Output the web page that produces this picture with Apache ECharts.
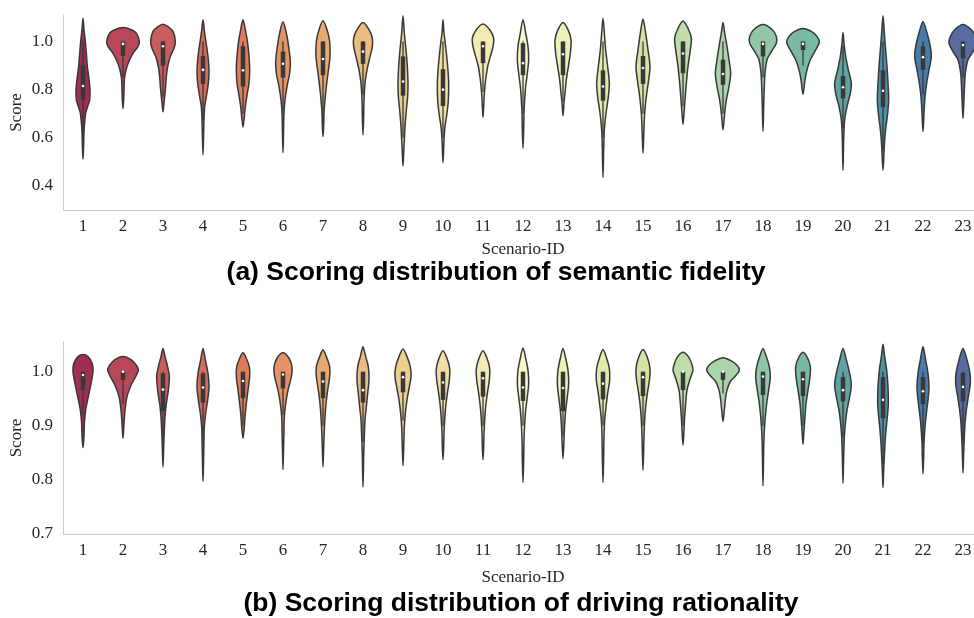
<!DOCTYPE html>
<html>
<head>
<meta charset="utf-8">
<script src="https://cdn.jsdelivr.net/npm/echarts@6/dist/echarts.min.js"></script>
<style>
  html, body { margin: 0; padding: 0; background: #fff; }
  #chart { width: 974px; height: 618px; }
</style>
</head>
<body>
<div id="chart"></div>
<script>
// scenario ids on the x axis
const scenarios = ['1','2','3','4','5','6','7','8','9','10','11','12','13','14','15','16','17','18','19','20','21','22','23'];

// violin outlines: [score, density] from top tip to bottom tip (density in relative width units)
const fidelityShape = [
  [[1.097,0],[1.049,3],[1.0,7],[0.951,10],[0.896,13],[0.854,17],[0.799,21],[0.757,20],[0.73,14],[0.702,8],[0.647,4],[0.605,2.5],[0.55,1.5],[0.511,0]],
  [[1.058,0],[1.049,25],[1.035,40],[1.0,49],[0.979,45],[0.951,30],[0.924,20],[0.896,12],[0.868,7],[0.841,4],[0.799,3],[0.757,2],[0.721,0]],
  [[1.072,0],[1.062,15],[1.042,30],[1.0,37],[0.972,33],[0.938,22],[0.896,14],[0.854,10],[0.813,8],[0.771,5],[0.744,3],[0.708,0]],
  [[1.09,0],[1.035,5],[0.979,11],[0.924,16],[0.875,18],[0.827,16],[0.771,10],[0.73,5],[0.674,3],[0.619,2],[0.529,0]],
  [[1.09,0],[1.049,7],[0.993,14],[0.938,18],[0.882,20],[0.827,18],[0.785,13],[0.73,7],[0.688,4],[0.644,0]],
  [[1.082,0],[1.035,10],[0.979,17],[0.917,22],[0.868,20],[0.813,12],[0.757,6],[0.702,3],[0.619,1.5],[0.538,0]],
  [[1.086,0],[1.049,12],[1.0,20],[0.938,21],[0.868,15],[0.813,10],[0.757,6],[0.702,3],[0.647,2],[0.605,0]],
  [[1.079,0],[1.049,18],[1.014,28],[0.979,28],[0.931,20],[0.882,12],[0.827,6],[0.757,3],[0.688,2],[0.612,0]],
  [[1.107,0],[1.035,4],[0.965,9],[0.896,13],[0.827,15],[0.771,14],[0.716,10],[0.647,6],[0.591,4],[0.536,2],[0.483,0]],
  [[1.09,0],[1.035,3],[0.979,8],[0.896,14],[0.827,17],[0.757,16],[0.702,12],[0.647,6],[0.591,3],[0.496,0]],
  [[1.073,0],[1.049,20],[1.014,32],[0.979,30],[0.938,22],[0.896,14],[0.841,8],[0.785,4],[0.73,2],[0.685,0]],
  [[1.09,0],[1.035,8],[0.979,15],[0.924,17],[0.868,13],[0.813,8],[0.757,5],[0.702,3],[0.633,2],[0.556,0]],
  [[1.079,0],[1.049,15],[1.007,24],[0.951,22],[0.896,16],[0.841,10],[0.785,6],[0.744,3],[0.691,0]],
  [[1.097,0],[1.035,4],[0.965,8],[0.896,14],[0.827,19],[0.771,16],[0.702,9],[0.633,4],[0.55,2],[0.435,0]],
  [[1.093,0],[1.035,8],[0.965,15],[0.896,21],[0.841,17],[0.771,10],[0.702,5],[0.619,2.5],[0.536,0]],
  [[1.085,0],[1.055,15],[1.014,25],[0.965,22],[0.896,15],[0.827,10],[0.757,6],[0.702,3],[0.656,0]],
  [[1.079,0],[1.035,5],[0.979,12],[0.924,18],[0.868,23],[0.813,18],[0.757,10],[0.702,5],[0.633,0]],
  [[1.071,0],[1.049,28],[1.021,40],[0.993,40],[0.958,25],[0.924,12],[0.868,6],[0.813,4],[0.73,2],[0.626,0]],
  [[1.054,0],[1.042,25],[1.021,42],[0.996,49],[0.965,38],[0.924,22],[0.882,12],[0.841,6],[0.78,0]],
  [[1.037,0],[0.993,3],[0.938,8],[0.882,16],[0.827,25],[0.785,22],[0.73,12],[0.674,5],[0.591,2],[0.464,0]],
  [[1.107,0],[1.035,4],[0.965,8],[0.896,12],[0.827,15],[0.757,17],[0.702,14],[0.647,9],[0.591,5],[0.536,3],[0.464,0]],
  [[1.082,0],[1.035,12],[0.979,22],[0.938,25],[0.882,18],[0.827,11],[0.771,6],[0.702,3],[0.626,0]],
  [[1.071,0],[1.049,25],[1.021,38],[0.993,42],[0.958,30],[0.924,15],[0.868,7],[0.799,4],[0.73,2],[0.681,0]]
];
// inner box: [whisker low, q1, median, q3, whisker high]
const fidelityBox = [
  [0.55,0.757,0.815,0.9,1.0],[0.85,0.94,0.99,1.0,1.0],[0.77,0.9,0.98,1.0,1.0],[0.67,0.824,0.882,0.94,1.0],
  [0.7,0.813,0.88,0.98,1.0],[0.7,0.85,0.907,0.958,1.0],[0.66,0.86,0.927,1.0,1.0],[0.78,0.907,0.958,1.0,1.0],
  [0.6,0.775,0.834,0.938,1.0],[0.6,0.732,0.8,0.885,1.0],[0.79,0.91,0.98,1.0,1.0],[0.7,0.86,0.91,0.993,1.0],
  [0.75,0.86,0.947,1.0,1.0],[0.6,0.754,0.813,0.88,1.0],[0.7,0.824,0.89,0.94,1.0],[0.73,0.868,0.95,1.0,1.0],
  [0.7,0.82,0.865,0.924,1.0],[0.85,0.938,0.99,1.0,1.0],[0.9,0.965,0.99,1.0,1.0],[0.64,0.764,0.81,0.857,0.98],
  [0.55,0.727,0.795,0.88,1.0],[0.78,0.882,0.935,0.98,1.0],[0.85,0.93,0.985,1.0,1.0]
];

const rationalityShape = [
  [[1.032,0],[1.028,15],[1.015,28],[1.0,30],[0.978,24],[0.954,16],[0.929,8],[0.904,4],[0.88,3],[0.86,0]],
  [[1.028,0],[1.022,25],[1.012,40],[1.003,46],[0.991,38],[0.975,24],[0.954,12],[0.929,6],[0.904,3],[0.877,0]],
  [[1.043,0],[1.028,6],[1.009,14],[0.991,19],[0.966,16],[0.941,10],[0.917,6],[0.892,4],[0.861,2],[0.824,0]],
  [[1.043,0],[1.022,7],[0.997,15],[0.972,18],[0.948,14],[0.923,8],[0.898,4],[0.861,2.5],[0.831,1.5],[0.797,0]],
  [[1.035,0],[1.025,10],[1.009,19],[0.991,20],[0.966,15],[0.941,10],[0.917,6],[0.898,4],[0.877,0]],
  [[1.035,0],[1.025,18],[1.009,27],[0.991,25],[0.966,15],[0.941,8],[0.917,4],[0.88,2.5],[0.855,1.5],[0.819,0]],
  [[1.04,0],[1.028,10],[1.009,20],[0.991,20],[0.966,14],[0.941,9],[0.917,6],[0.892,4],[0.861,2],[0.824,0]],
  [[1.046,0],[1.028,8],[1.009,16],[0.985,18],[0.96,14],[0.935,10],[0.911,6],[0.88,4],[0.843,2],[0.787,0]],
  [[1.042,0],[1.028,12],[1.009,22],[0.991,24],[0.969,18],[0.948,12],[0.923,7],[0.898,4],[0.868,2.5],[0.826,0]],
  [[1.039,0],[1.025,12],[1.006,20],[0.985,19],[0.96,13],[0.935,8],[0.911,5],[0.886,3],[0.861,2],[0.837,0]],
  [[1.039,0],[1.025,12],[1.006,20],[0.985,19],[0.96,13],[0.935,8],[0.911,5],[0.886,3],[0.861,2],[0.837,0]],
  [[1.044,0],[1.025,8],[1.003,15],[0.978,17],[0.954,13],[0.929,8],[0.904,5],[0.874,3],[0.837,2],[0.795,0]],
  [[1.043,0],[1.025,8],[1.003,15],[0.978,17],[0.954,13],[0.929,8],[0.904,5],[0.874,3],[0.839,0]],
  [[1.041,0],[1.025,11],[1.006,19],[0.985,20],[0.96,14],[0.935,9],[0.911,5],[0.88,3],[0.843,2],[0.795,0]],
  [[1.041,0],[1.025,14],[1.006,21],[0.988,20],[0.96,13],[0.935,8],[0.911,5],[0.88,3],[0.855,2],[0.818,0]],
  [[1.036,0],[1.028,16],[1.015,26],[1.003,30],[0.988,22],[0.966,12],[0.941,8],[0.917,5],[0.892,3],[0.864,0]],
  [[1.026,0],[1.02,25],[1.012,42],[1.003,49],[0.994,40],[0.982,22],[0.966,12],[0.948,7],[0.929,4],[0.908,0]],
  [[1.043,0],[1.028,10],[1.009,19],[0.991,22],[0.966,17],[0.941,11],[0.917,7],[0.892,4],[0.855,2],[0.789,0]],
  [[1.036,0],[1.025,14],[1.009,22],[0.991,21],[0.966,15],[0.941,9],[0.917,6],[0.892,3],[0.866,0]],
  [[1.043,0],[1.022,10],[0.997,20],[0.975,25],[0.954,20],[0.929,12],[0.904,7],[0.88,4],[0.843,2],[0.794,0]],
  [[1.051,0],[1.028,5],[1.003,11],[0.972,15],[0.941,16],[0.917,13],[0.892,9],[0.868,6],[0.843,4],[0.818,2],[0.786,0]],
  [[1.046,0],[1.022,8],[0.997,15],[0.972,18],[0.948,15],[0.923,10],[0.898,6],[0.868,3],[0.843,2],[0.811,0]],
  [[1.043,0],[1.022,12],[0.997,21],[0.978,22],[0.954,16],[0.929,10],[0.904,6],[0.88,4],[0.849,2],[0.813,0]]
];
const rationalityBox = [
  [0.92,0.966,0.994,1.0,1.0],[0.94,0.985,1.0,1.0,1.0],[0.85,0.927,0.967,0.997,1.0],[0.87,0.943,0.971,0.997,1.0],
  [0.9,0.951,0.983,1.0,1.0],[0.92,0.969,0.995,1.0,1.0],[0.9,0.951,0.982,1.0,1.0],[0.87,0.943,0.966,1.0,1.0],
  [0.91,0.962,0.99,1.0,1.0],[0.9,0.948,0.98,1.0,1.0],[0.9,0.954,0.988,1.0,1.0],[0.9,0.946,0.971,1.0,1.0],
  [0.88,0.927,0.97,1.0,1.0],[0.9,0.949,0.978,1.0,1.0],[0.9,0.955,0.99,1.0,1.0],[0.9,0.966,1.0,1.0,1.0],
  [0.96,0.985,1.0,1.0,1.0],[0.9,0.957,0.991,1.0,1.0],[0.9,0.955,0.986,1.0,1.0],[0.88,0.945,0.966,0.99,1.0],
  [0.83,0.914,0.948,0.99,1.0],[0.87,0.94,0.964,0.99,1.0],[0.87,0.945,0.972,0.998,1.0]
];

const fidelityTicks = [0.4, 0.6, 0.8, 1.0];
const rationalityTicks = [0.7, 0.8, 0.9, 1.0];

// Spectral colormap, desaturated like seaborn (saturation 0.75)
const SPECTRAL = ['#9e0142','#d53e4f','#f46d43','#fdae61','#fee08b','#ffffbf','#e6f598','#abdda4','#66c2a5','#3288bd','#5e4fa2'];
function hexRgb(h) { return [1, 3, 5].map(k => parseInt(h.substr(k, 2), 16)); }
function spectral(t) {
  const p = t * 10, k = Math.min(9, Math.floor(p)), f = p - k;
  const a = hexRgb(SPECTRAL[k]), b = hexRgb(SPECTRAL[k + 1]);
  return a.map((v, j) => v + (b[j] - v) * f);
}
function desat(c, prop) {
  const [r, g, b] = c.map(v => v / 255);
  const mx = Math.max(r, g, b), mn = Math.min(r, g, b), l = (mx + mn) / 2;
  if (mx === mn) return c.map(Math.round);
  const d = mx - mn;
  const s = l > 0.5 ? d / (2 - mx - mn) : d / (mx + mn);
  let h;
  if (mx === r) h = (g - b) / d + (g < b ? 6 : 0);
  else if (mx === g) h = (b - r) / d + 2;
  else h = (r - g) / d + 4;
  h /= 6;
  const s2 = s * prop;
  const q = l < 0.5 ? l * (1 + s2) : l + s2 - l * s2, pp = 2 * l - q;
  const hue = t => {
    if (t < 0) t += 1; if (t > 1) t -= 1;
    if (t < 1 / 6) return pp + (q - pp) * 6 * t;
    if (t < 1 / 2) return q;
    if (t < 2 / 3) return pp + (q - pp) * (2 / 3 - t) * 6;
    return pp;
  };
  return [hue(h + 1 / 3), hue(h), hue(h - 1 / 3)].map(v => Math.round(v * 255));
}
const colors = scenarios.map((s, i) => 'rgb(' + desat(spectral((i + 1) / 24), 0.75).join(',') + ')');

const LINE = '#383838';
const WIDTH_UNIT = 120; // density units per category band

function violinRenderer(shapes, boxes) {
  return function (params, api) {
    const i = api.value(0);
    const band = api.size([1, 0])[0];
    const cx = api.coord([i, 0])[0];
    const prof = shapes[i];
    const bx = boxes[i];
    const y = v => api.coord([i, v])[1];
    const right = prof.map(p => [cx + p[1] / WIDTH_UNIT * band, y(p[0])]);
    const left = prof.slice(1, -1).reverse().map(p => [cx - p[1] / WIDTH_UNIT * band, y(p[0])]);
    const bw = 4.5;
    return {
      type: 'group',
      children: [
        {
          type: 'polygon',
          shape: { points: right.concat(left), smooth: 0.3 },
          style: { fill: colors[i], stroke: LINE, lineWidth: 1.5 }
        },
        {
          type: 'line',
          shape: { x1: cx, y1: y(bx[0]), x2: cx, y2: y(bx[4]) },
          style: { stroke: LINE, lineWidth: 1.3 }
        },
        {
          type: 'rect',
          shape: { x: cx - bw / 2, y: y(bx[3]), width: bw, height: y(bx[1]) - y(bx[3]) },
          style: { fill: LINE }
        },
        {
          type: 'circle',
          shape: { cx: cx, cy: y(bx[2]), r: 1.3 },
          style: { fill: '#ffffff' }
        }
      ]
    };
  };
}

const serif = 'Liberation Serif';
const textColor = '#262626';

function xAxisFor(gridIndex, gap) {
  return {
    type: 'category', gridIndex: gridIndex, data: scenarios,
    name: 'Scenario-ID', nameLocation: 'middle', nameGap: gap,
    nameTextStyle: { fontFamily: serif, fontSize: 17, color: textColor },
    axisLine: { lineStyle: { color: '#cccccc', width: 1 } },
    axisTick: { show: false },
    axisLabel: { fontFamily: serif, fontSize: 17, color: textColor, margin: 8 },
    splitLine: { show: false }
  };
}
function yAxisFor(gridIndex, min, max, ticks) {
  return {
    type: 'value', gridIndex: gridIndex, min: min, max: max,
    name: 'Score', nameLocation: 'middle', nameGap: 38, nameRotate: 90, nameMoveOverlap: false,
    nameTextStyle: { fontFamily: serif, fontSize: 17, color: textColor },
    axisLine: { show: true, lineStyle: { color: '#cccccc', width: 1 } },
    axisTick: { show: false },
    axisLabel: {
      fontFamily: serif, fontSize: 17, color: textColor, margin: 10,
      customValues: ticks, formatter: v => v.toFixed(1)
    },
    splitLine: { show: false }
  };
}

const chart = echarts.init(document.getElementById('chart'), null, { renderer: 'canvas' });
chart.setOption({
  animation: false,
  backgroundColor: '#ffffff',
  title: [
    {
      text: '(a) Scoring distribution of semantic fidelity',
      left: 496, top: 259, textAlign: 'center', padding: 0,
      textStyle: { fontFamily: 'Liberation Sans', fontWeight: 'bold', fontSize: 26.5, color: '#000' }
    },
    {
      text: '(b) Scoring distribution of driving rationality',
      left: 521, top: 590, textAlign: 'center', padding: 0,
      textStyle: { fontFamily: 'Liberation Sans', fontWeight: 'bold', fontSize: 26.5, color: '#000' }
    }
  ],
  grid: [
    { left: 63, right: -9, top: 15, height: 195, outerBoundsMode: 'none', containLabel: false },
    { left: 63, right: -9, top: 342, height: 192, outerBoundsMode: 'none', containLabel: false }
  ],
  xAxis: [xAxisFor(0, 31), xAxisFor(1, 35)],
  yAxis: [yAxisFor(0, 0.3, 1.11, fidelityTicks), yAxisFor(1, 0.7, 1.055, rationalityTicks)],
  series: [
    {
      type: 'custom', xAxisIndex: 0, yAxisIndex: 0,
      renderItem: violinRenderer(fidelityShape, fidelityBox),
      encode: { x: 0, y: 1 },
      data: scenarios.map((s, i) => [i, fidelityBox[i][2]])
    },
    {
      type: 'custom', xAxisIndex: 1, yAxisIndex: 1,
      renderItem: violinRenderer(rationalityShape, rationalityBox),
      encode: { x: 0, y: 1 },
      data: scenarios.map((s, i) => [i, rationalityBox[i][2]])
    }
  ]
});
</script>
</body>
</html>
